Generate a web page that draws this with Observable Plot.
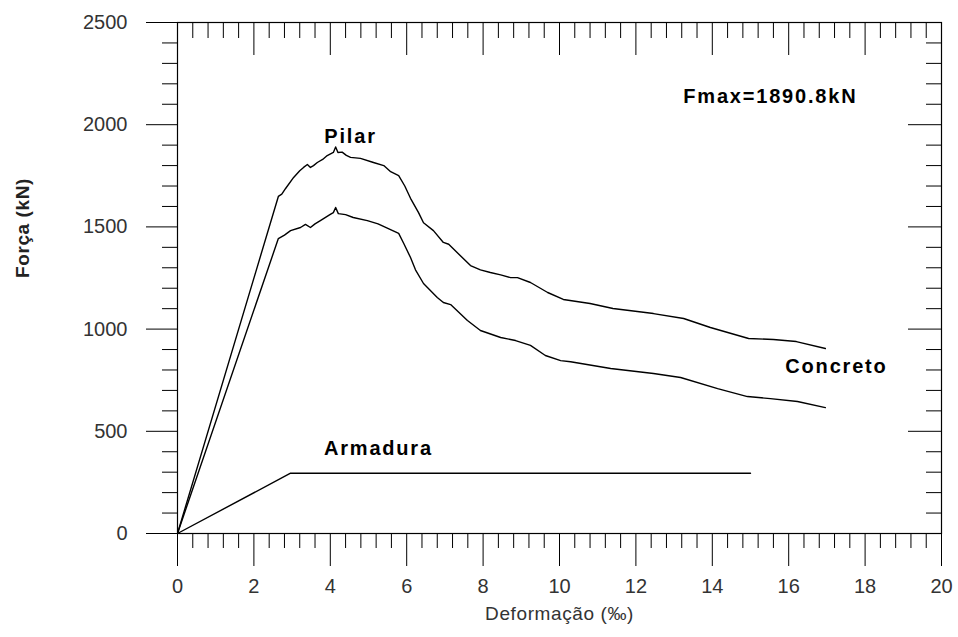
<!DOCTYPE html>
<html>
<head>
<meta charset="utf-8">
<script src="https://cdn.jsdelivr.net/npm/d3@7"></script>
<script src="https://cdn.jsdelivr.net/npm/@observablehq/plot@0.6"></script>
<style>
  html, body { margin: 0; padding: 0; background: #fff; }
  #chart { width: 958px; height: 637px; }
</style>
</head>
<body>
<div id="chart"></div>
<script>
// Pilar (total)
const pilarX = [0, 2.64, 2.73, 2.83, 3.04, 3.2, 3.3, 3.4, 3.48, 3.56, 3.66, 3.8, 3.92, 4.08, 4.14, 4.2, 4.31, 4.42, 4.53, 4.79, 5.13, 5.4, 5.58, 5.79, 5.95, 6.1, 6.31, 6.44, 6.7, 6.96, 7.1, 7.4, 7.67, 7.93, 8.19, 8.46, 8.72, 8.9, 9.24, 9.69, 10.1, 10.8, 11.4, 12.46, 13.25, 13.95, 14.95, 15.6, 16.2, 16.96];
const pilarY = [0, 1649, 1660, 1688, 1742, 1775, 1791, 1805, 1791, 1800, 1815, 1830, 1849, 1864, 1890.8, 1864, 1866, 1850, 1840, 1835, 1815, 1800, 1770, 1751, 1700, 1640, 1570, 1520, 1482, 1424, 1415, 1360, 1311, 1290, 1277, 1265, 1252, 1252, 1228, 1179, 1145, 1125, 1101, 1076, 1052, 1008, 954, 949, 939, 905];

// Concreto
const concretoX = [0, 2.64, 2.8, 2.96, 3.22, 3.35, 3.48, 3.6, 3.74, 4.0, 4.08, 4.14, 4.21, 4.4, 4.6, 4.97, 5.25, 5.52, 5.79, 5.92, 6.1, 6.23, 6.44, 6.8, 6.96, 7.15, 7.59, 7.93, 8.46, 8.85, 9.24, 9.63, 10.03, 10.29, 11.34, 12.46, 13.17, 14.14, 14.92, 15.52, 16.23, 16.96];
const concretoY = [0, 1443, 1460, 1482, 1497, 1512, 1497, 1515, 1531, 1561, 1570, 1595, 1565, 1560, 1546, 1531, 1515, 1492, 1468, 1420, 1350, 1290, 1223, 1155, 1130, 1120, 1042, 993, 959, 944, 920, 871, 846, 840, 807, 783, 763, 709, 670, 660, 646, 616];

// Armadura
const armaduraX = [0, 2.96, 15.0];
const armaduraY = [0, 295, 295];

// Axis ticks
const xMajor = [0, 2, 4, 6, 8, 10, 12, 14, 16, 18, 20];
const xMinor = d3.range(0, 20.001, 0.4).map(v => +v.toFixed(2)).filter(v => !xMajor.includes(v));
const yMajor = [0, 500, 1000, 1500, 2000, 2500];
const yMinor = d3.range(0, 2501, 100).filter(v => !yMajor.includes(v));

// Labels
const labelText = ["Pilar", "Fmax=1890.8kN", "Concreto", "Armadura"];
const labelX = [4.53, 15.52, 17.25, 5.26];
const labelY = [1942, 2138, 817, 416];

const xTitle = "Deformação (‰)";
const yTitle = "Força (kN)";

const toRows = (xs, ys) => xs.map((x, i) => ({x, y: ys[i]}));
const pilar = toRows(pilarX, pilarY);
const concreto = toRows(concretoX, concretoY);
const armadura = toRows(armaduraX, armaduraY);
const labels = labelText.map((t, i) => ({t, x: labelX[i], y: labelY[i]}));

const W = 958, H = 637;
const mL = 177, mR = 17, mT = 22, mB = 104;
const plotW = W - mL - mR, plotH = H - mT - mB;
const font = "Liberation Sans, Arial, Helvetica, sans-serif";

const chart = Plot.plot({
  width: W, height: H,
  marginLeft: mL, marginRight: mR, marginTop: mT, marginBottom: mB,
  style: {fontFamily: font, fontSize: "20px", background: "white", color: "black"},
  x: {domain: [0, 20]},
  y: {domain: [0, 2500]},
  marks: [
    // bottom axis: outward ticks
    Plot.axisX({anchor: "bottom", ticks: xMajor, tickSize: 33, tickPadding: 12, tickFormat: d => String(d), label: null, fontSize: 20, fill: "#333", stroke: "black"}),
    Plot.axisX({anchor: "bottom", ticks: xMinor, tickSize: 15, tickFormat: () => "", label: null, stroke: "black"}),
    // left axis: outward ticks
    Plot.axisY({anchor: "left", ticks: yMajor, tickSize: 31, tickPadding: 19, tickFormat: d => String(d), label: null, fontSize: 20, fill: "#333", stroke: "black"}),
    Plot.axisY({anchor: "left", ticks: yMinor, tickSize: 15, tickFormat: () => "", label: null, stroke: "black"}),
    // top inward ticks
    Plot.tickX(xMajor, {x: d => d, insetBottom: plotH - 33, stroke: "black"}),
    Plot.tickX(xMinor, {x: d => d, insetBottom: plotH - 16, stroke: "black"}),
    // right inward ticks
    Plot.tickY(yMajor, {y: d => d, insetLeft: plotW - 33, stroke: "black"}),
    Plot.tickY(yMinor, {y: d => d, insetLeft: plotW - 15, stroke: "black"}),
    Plot.frame({stroke: "black", strokeWidth: 1.2}),
    // curves
    Plot.line(pilar, {x: "x", y: "y", stroke: "black", strokeWidth: 1.4}),
    Plot.line(concreto, {x: "x", y: "y", stroke: "black", strokeWidth: 1.4}),
    Plot.line(armadura, {x: "x", y: "y", stroke: "black", strokeWidth: 1.4}),
    // annotations
    Plot.text(labels, {x: "x", y: "y", text: "t", fontSize: 20, fontWeight: "bold", fill: "black", textAnchor: "middle", lineAnchor: "middle"}),
    // axis titles
    Plot.text([xTitle], {frameAnchor: "bottom", text: d => d, dy: 80, fontSize: 19, fill: "#333", lineAnchor: "middle"}),
    Plot.text([yTitle], {frameAnchor: "left", text: d => d, dx: -155, rotate: -90, fontSize: 19, fontWeight: "bold", fill: "#222", lineAnchor: "middle"})
  ]
});
// widen the annotation lettering like the reference
chart.querySelectorAll("text").forEach(t => {
  const s = t.textContent;
  if (labelText.includes(s)) t.style.letterSpacing = "1.8px";
  else if (s === xTitle || s === yTitle) t.style.letterSpacing = "0.6px";
});
document.getElementById("chart").append(chart);
</script>
</body>
</html>
